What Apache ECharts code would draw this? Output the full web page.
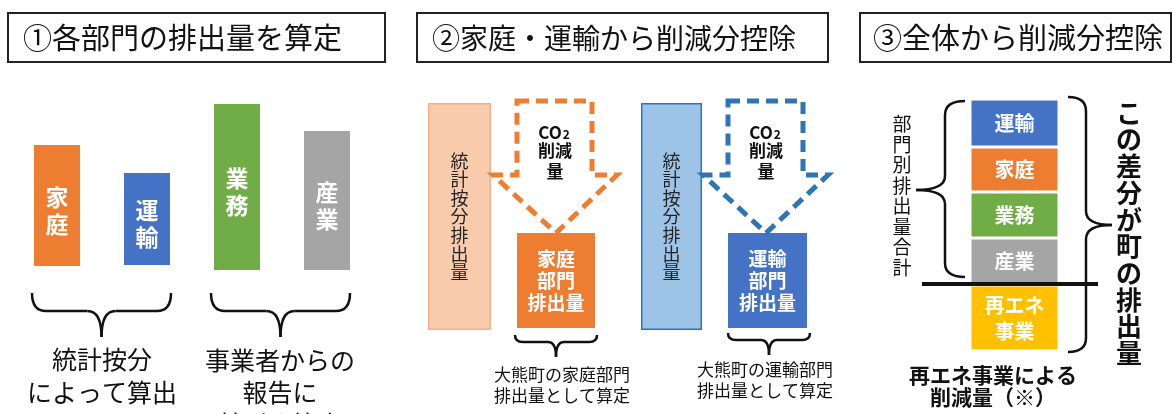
<!DOCTYPE html>
<html><head><meta charset="utf-8">
<script src="https://cdn.jsdelivr.net/npm/echarts@6/dist/echarts.min.js"></script>
<style>html,body{margin:0;padding:0;background:#fff}#c{width:1172px;height:414px}</style>
</head><body><div id="c"></div>
<script>
const FONT = '"Noto Sans CJK JP", "Noto Sans CJK SC", sans-serif';
// ---- Panel 1: sector bars ----
const p1Categories = ['家庭', '運輸', '業務', '産業'];
const p1Base = [94, 95, 90, 90];
const p1Values = [121, 92, 166, 139];
const p1Colors = ['#ED7D31', '#4472C4', '#70AD47', '#A5A5A5'];
// ---- Panel 2: statistical vs. net sector emissions ----
const p2Names = ['統計按分排出量', '家庭部門排出量', '統計按分排出量', '運輸部門排出量'];
const p2Labels = ['統\n計\n按\n分\n排\n出\n量', '家庭\n部門\n排出量', '統\n計\n按\n分\n排\n出\n量', '運輸\n部門\n排出量'];
const p2Base = [30, 32, 30, 32];
const p2Values = [227, 95, 227, 95];
const p2Fill = ['#F8CBAD', '#ED7D31', '#9DC3E6', '#4472C4'];
const p2Border = ['#F4B183', '#ED7D31', '#2E75B6', '#4472C4'];
const p2Text = ['#222', '#fff', '#222', '#fff'];
// ---- Panel 3: stacked total ----
const p3Segments = ['再エネ事業', '産業', '業務', '家庭', '運輸'];
const p3Labels = ['再エネ\n事業', '産業', '業務', '家庭', '運輸'];
const p3Values = [66, 47, 46, 45, 48];
const p3Base = 9;
const p3Colors = ['#FFC000', '#A5A5A5', '#70AD47', '#ED7D31', '#4472C4'];

const grids = [
  {left: 12, width: 360}, {left: 428, width: 63}, {left: 517, width: 78},
  {left: 641, width: 61}, {left: 728, width: 79}, {left: 970, width: 89}
].map(g => Object.assign({top: 60, height: 300, containLabel: false}, g));

const xAxis = grids.map((g, i) => ({
  type: 'category', gridIndex: i, show: false,
  data: i === 0 ? p1Categories : (i === 5 ? ['合計'] : [p2Names[i - 1]])
}));
const yAxis = grids.map((g, i) => ({type: 'value', gridIndex: i, show: false, min: 0, max: 300}));

const series = [];
// panel 1
series.push({type: 'bar', xAxisIndex: 0, yAxisIndex: 0, stack: 'p1', barWidth: 46, silent: true,
  itemStyle: {color: 'transparent'}, data: p1Base});
series.push({type: 'bar', xAxisIndex: 0, yAxisIndex: 0, stack: 'p1', barWidth: 46,
  data: p1Values.map((v, i) => ({value: v, itemStyle: {color: p1Colors[i]}})),
  label: {show: true, position: 'inside', offset: [0, 5], color: '#fff', fontWeight: 'bold',
    fontFamily: FONT, fontSize: 23, lineHeight: 27,
    formatter: p => p.name.split('').join('\n')}});
// panel 2
for (let i = 0; i < 4; i++) {
  const gi = i + 1;
  series.push({type: 'bar', xAxisIndex: gi, yAxisIndex: gi, stack: 'p2' + i, barWidth: '100%', silent: true,
    itemStyle: {color: 'transparent'}, data: [p2Base[i]]});
  series.push({type: 'bar', xAxisIndex: gi, yAxisIndex: gi, stack: 'p2' + i, barWidth: '100%',
    itemStyle: {color: p2Fill[i], borderColor: p2Border[i], borderWidth: 1.5},
    data: [p2Values[i]],
    label: {show: true, position: 'inside', color: p2Text[i],
      fontWeight: i % 2 ? 'bold' : 'normal', fontFamily: FONT,
      fontSize: i % 2 ? 19 : 18, lineHeight: i % 2 ? 22 : 18.6,
      formatter: () => p2Labels[i]}});
}
// panel 3
series.push({type: 'bar', xAxisIndex: 5, yAxisIndex: 5, stack: 'p3', barWidth: '100%', silent: true,
  itemStyle: {color: 'transparent'}, data: [p3Base]});
p3Segments.forEach((s, i) => {
  series.push({type: 'bar', name: s, xAxisIndex: 5, yAxisIndex: 5, stack: 'p3', barWidth: '100%',
    itemStyle: {color: p3Colors[i], borderColor: '#fff', borderWidth: 1.5},
    data: [p3Values[i]],
    label: {show: true, position: 'inside', color: '#fff', fontWeight: 'bold', fontFamily: FONT,
      fontSize: 20, lineHeight: 26, formatter: () => p3Labels[i]}});
});

// ---- decoration helpers ----
function txt(text, x, y, size, opts) {
  opts = opts || {};
  const st = {
    text: text, x: x, y: y, fill: opts.fill || '#111',
    font: (opts.bold ? 'bold ' : '') + size + 'px ' + FONT,
    align: opts.align || 'center', verticalAlign: 'middle',
    textAlign: opts.align || 'center', textVerticalAlign: 'middle',
    lineHeight: opts.lineHeight || size * 1.2
  };
  if (opts.rich) st.rich = opts.rich;
  return {type: 'text', z: 20, style: st};
}
const co2Rich = {
  a: {fontFamily: FONT, fontWeight: 'bold', fontSize: 17, fill: '#111', color: '#111', verticalAlign: 'bottom'},
  b: {fontFamily: FONT, fontWeight: 'bold', fontSize: 12, fill: '#111', color: '#111', verticalAlign: 'bottom', padding: [0, 0, 1, 1]}
};
const STROKE = {stroke: '#111', lineWidth: 2.5, fill: null};
function quad(ax, ay, cx, cy, bx, by) {
  return {type: 'bezierCurve', z: 20, shape: {x1: ax, y1: ay, cpx1: cx, cpy1: cy, x2: bx, y2: by}, style: STROKE};
}
function seg(ax, ay, bx, by) {
  return {type: 'line', z: 20, shape: {x1: ax, y1: ay, x2: bx, y2: by}, style: STROKE};
}
function hBrace(x1, x2, y0, ym, y1, r) {
  const xm = (x1 + x2) / 2;
  return [
    quad(x1, y0, x1, ym, x1 + r, ym), seg(x1 + r, ym, xm - r, ym), quad(xm - r, ym, xm, ym, xm, y1),
    quad(xm, y1, xm, ym, xm + r, ym), seg(xm + r, ym, x2 - r, ym), quad(x2 - r, ym, x2, ym, x2, y0)
  ];
}
function vBrace(x0, xm, x1, y1, y2, ymid, r) {
  return [
    quad(x0, y1, xm, y1, xm, y1 + r), seg(xm, y1 + r, xm, ymid - r), quad(xm, ymid - r, xm, ymid, x1, ymid),
    quad(x1, ymid, xm, ymid, xm, ymid + r), seg(xm, ymid + r, xm, y2 - r), quad(xm, y2 - r, xm, y2, x0, y2)
  ];
}
function box(x, y, w, h) {
  return {type: 'rect', z: 20, shape: {x: x, y: y, width: w, height: h},
    style: {stroke: '#222', lineWidth: 2, fill: null}};
}
function arrow(l, r, top, mid, wl, wr, tipX, tipY, color) {
  return {type: 'polygon', z: 15, shape: {points: [[l, top], [r, top], [r, mid], [wr, mid], [tipX, tipY], [wl, mid], [l, mid]]},
    style: {stroke: color, lineWidth: 5, lineDash: [12, 7], fill: null}};
}

const graphic = [
  box(8, 13, 377, 49), txt('①各部門の排出量を算定', 23, 38, 29, {align: 'left'}),
  box(417, 13, 411, 49), txt('②家庭・運輸から削減分控除', 432, 38, 28, {align: 'left'}),
  box(860, 13, 311, 49), txt('③全体から削減分控除', 873, 38, 29, {align: 'left'}),
  // panel 1
  ...hBrace(32, 171, 293, 311, 337, 14), ...hBrace(211, 350, 293, 311, 337, 14),
  txt('統計按分\nによって算出', 102, 376, 25, {lineHeight: 33}),
  txt('事業者からの\n報告に\n基づき算出', 280, 392, 25, {lineHeight: 32}),
  // panel 2
  arrow(517, 592, 101, 175, 493, 617, 556, 233, '#ED7D31'),
  arrow(728, 803, 101, 175, 703, 828, 766, 233, '#2E75B6'),
  txt('{a|CO}{b|2}', 554, 131, 17, {bold: true, rich: co2Rich}), txt('削減\n量', 555, 161.5, 17, {bold: true, lineHeight: 21}),
  txt('{a|CO}{b|2}', 765, 131, 17, {bold: true, rich: co2Rich}), txt('削減\n量', 766, 161.5, 17, {bold: true, lineHeight: 21}),
  ...hBrace(515, 597, 335, 342, 357, 8), ...hBrace(728, 810, 333, 340, 355, 8),
  txt('大熊町の家庭部門\n排出量として算定', 562, 385, 17, {lineHeight: 21}),
  txt('大熊町の運輸部門\n排出量として算定', 765, 380, 17, {lineHeight: 21}),
  // panel 3
  {type: 'line', z: 25, shape: {x1: 922, y1: 284, x2: 1098, y2: 284}, style: {stroke: '#111', lineWidth: 4}},
  ...vBrace(965, 945, 916, 101, 277, 190, 14),
  ...vBrace(1068, 1086, 1112, 97, 352, 225, 14),
  txt('部\n門\n別\n排\n出\n量\n合\n計', 902, 196, 19, {lineHeight: 20.5}),
  txt('こ\nの\n差\n分\nが\n町\nの\n排\n出\n量', 1129, 233, 26, {bold: true, lineHeight: 26.7}),
  txt('再エネ事業による\n削減量（※）', 993, 386, 21, {bold: true, lineHeight: 22})
];

const chart = echarts.init(document.getElementById('c'), null, {renderer: 'canvas'});
chart.setOption({
  animation: false,
  backgroundColor: '#fff',
  grid: grids, xAxis: xAxis, yAxis: yAxis, series: series, graphic: graphic
});
</script></body></html>
